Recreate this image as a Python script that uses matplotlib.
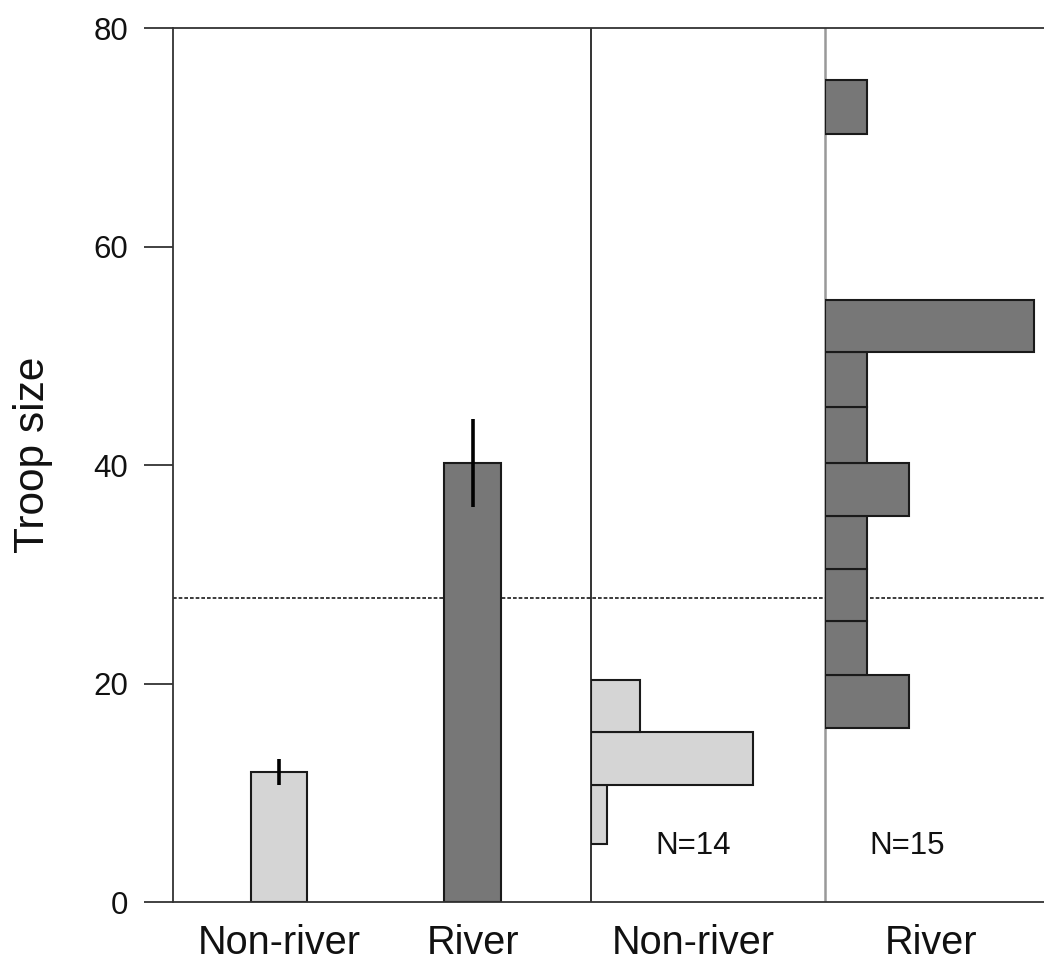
import numpy as np
import matplotlib
matplotlib.use("Agg")
import matplotlib.pyplot as plt

plt.rcParams["font.family"] = ["Liberation Sans", "DejaVu Sans"]

# Mean troop size (with error) per habitat
groups = ["Non-river", "River"]
mean_size = [11.9, 40.2]
err_size = [1.15, 4.0]

# Troop-size distributions: bin edges and number of troops per bin
nonriver_edges = [5.3, 10.7, 15.6, 20.3]
nonriver_counts = [1, 10, 3]
river_edges = [15.9, 20.8, 25.7, 30.5, 35.3, 40.2, 45.3, 50.3, 55.1, 60.2, 65.2, 70.3, 75.2]
river_counts = [2, 1, 1, 1, 2, 1, 1, 5, 0, 0, 0, 1]
n_labels = ["N=14", "N=15"]

overall_mean = 27.8
yticks = [0, 20, 40, 60, 80]

light = "#d5d5d5"
dark = "#777777"
edge = "#1a1a1a"

W, H = 1044, 969
fig = plt.figure(figsize=(W / 100, H / 100), dpi=100)

left_px, right_px, top_px, bottom_px = 173, 1044, 28, 902
ax = fig.add_axes([left_px / W, 1 - bottom_px / H,
                   (right_px - left_px) / W, (bottom_px - top_px) / H])
ax.set_xlim(0, 1)
ax.set_ylim(0, 80)

# panel layout (axes fraction)
bar_pos = [0.1217, 0.344]
bar_w = 0.065
div1, div2 = 0.48, 0.7486
label_pos = bar_pos + [0.597, 0.870]

ax.axhline(overall_mean, color="#1a1a1a", lw=1.2, ls=(0, (2.2, 1.2)), zorder=1)

ax.bar(bar_pos, mean_size, width=bar_w, color=[light, dark], edgecolor=edge,
       linewidth=1.5, zorder=2)
ax.errorbar(bar_pos, mean_size, yerr=err_size, fmt="none", ecolor="black",
            elinewidth=2.6, capsize=0, zorder=3)

ax.axvline(div1, color="#111111", lw=1.2, zorder=1)
ax.axvline(div2, color="#999999", lw=1.8, zorder=1)

for s in ["left", "top", "bottom"]:
    ax.spines[s].set_color("#333333")
    ax.spines[s].set_linewidth(1.3)
ax.spines["right"].set_visible(False)

ax.set_yticks(yticks)
ax.tick_params(axis="y", length=20.9, width=1.3, color="#333333", pad=11.5,
               labelsize=22.5, labelcolor="#111111")
ax.set_xticks(label_pos)
ax.set_xticklabels(groups + groups)
ax.tick_params(axis="x", length=0, pad=16, labelsize=28.5, labelcolor="#111111")

fig.text(13 / W, 1 - 455 / H, "Troop size", rotation=90, ha="left", va="center",
         fontsize=30.5, color="#111111")


def hist_axes(x0_px, x1_px, xmax):
    h = fig.add_axes([x0_px / W, 1 - bottom_px / H,
                      (x1_px - x0_px) / W, (bottom_px - top_px) / H], sharey=ax)
    h.set_xlim(0, xmax)
    h.patch.set_visible(False)
    h.axis("off")
    return h


x_div1 = left_px + div1 * (right_px - left_px)
x_div2 = left_px + div2 * (right_px - left_px)

hn = hist_axes(x_div1, x_div2, (x_div2 - x_div1) / 16.2)
hn.barh(nonriver_edges[:-1], nonriver_counts, height=np.diff(nonriver_edges),
        align="edge", color=light, edgecolor=edge, linewidth=1.5)

hr = hist_axes(x_div2, right_px, (right_px - x_div2) / 41.8)
rc = np.array(river_counts)
re_ = np.array(river_edges)
keep = rc > 0
hr.barh(re_[:-1][keep], rc[keep], height=np.diff(re_)[keep],
        align="edge", color=dark, edgecolor=edge, linewidth=1.5)

ax.text(0.597, 5.1, n_labels[0], ha="center", va="center", fontsize=22.5,
        color="#111111")
ax.text(0.843, 5.1, n_labels[1], ha="center", va="center", fontsize=22.5,
        color="#111111")

fig.savefig("out.png", dpi=100)
